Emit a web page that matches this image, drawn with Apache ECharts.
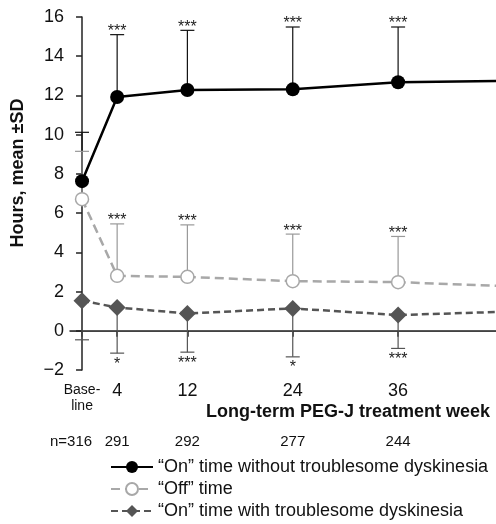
<!DOCTYPE html>
<html><head><meta charset="utf-8">
<script src="https://cdn.jsdelivr.net/npm/echarts@6/dist/echarts.min.js"></script>
<style>html,body{margin:0;padding:0;background:#fff}#c{width:496px;height:524px}</style>
</head><body><div id="c"></div>
<script>
const weeks = [0, 4, 12, 24, 36, 48];
const tickWeeks = [0, 4, 12, 24, 36];
const tickLabels = ['Base-\nline', '4', '12', '24', '36'];
const nCounts = ['316', '291', '292', '277', '244'];
const onNoTD = [7.63, 11.92, 12.28, 12.31, 12.67, 12.74];
const onNoTDUpper = [10.12, 15.1, 15.32, 15.49, 15.49];
const onNoTDStars = ['', '***', '***', '***', '***'];
const offTime = [6.71, 2.8, 2.75, 2.53, 2.48, 2.28];
const offUpper = [9.15, 5.45, 5.4, 4.93, 4.81];
const offStars = ['', '***', '***', '***', '***'];
const onTD = [1.53, 1.19, 0.88, 1.14, 0.8, 0.97];
const onTDLower = [-0.46, -1.14, -1.09, -1.33, -0.9];
const onTDStars = ['', '*', '***', '*', '***'];

const FONT = '"Liberation Sans", Arial, Helvetica, sans-serif';
const X_MIN = -1.37, X_MAX = 47.15;

function pairs(xs, ys) { return ys.map((v, i) => [xs[i], v]); }

function errSeries(name, means, bounds, stars, color, up) {
  return {
    type: 'custom', name: name + ' SD', z: 1, silent: true,
    data: bounds.map((b, i) => [weeks[i], means[i], b]),
    renderItem: function (params, api) {
      const x = api.value(0), m = api.value(1), b = api.value(2);
      const p0 = api.coord([x, m]), p1 = api.coord([x, b]);
      const children = [
        { type: 'line', shape: { x1: p0[0], y1: p0[1], x2: p1[0], y2: p1[1] }, style: { stroke: color, lineWidth: 1.2 } },
        { type: 'line', shape: { x1: p1[0] - 7, y1: p1[1], x2: p1[0] + 7, y2: p1[1] }, style: { stroke: color, lineWidth: 1.2 } }
      ];
      const s = stars[params.dataIndex];
      if (s) {
        children.push({
          type: 'text',
          style: {
            text: s, x: p1[0], y: up ? p1[1] - 3 : p1[1] + 11,
            align: 'center', verticalAlign: 'middle',
            fill: '#222', font: '16px ' + FONT
          }
        });
      }
      return { type: 'group', children: children };
    }
  };
}

const chart = echarts.init(document.getElementById('c'), null, { renderer: 'canvas' });
chart.setOption({
  animation: false,
  backgroundColor: '#fff',
  grid: { left: 70, right: 0, top: 17, bottom: 154, containLabel: false },
  xAxis: [{
    type: 'value', min: X_MIN, max: X_MAX, position: 'bottom',
    axisLine: { show: true, lineStyle: { color: '#222', width: 1.5 } },
    axisTick: { show: true, customValues: tickWeeks, length: 6, lineStyle: { color: '#222', width: 1.5 } },
    axisLabel: {
      show: true, customValues: tickWeeks, margin: 12, color: '#111',
      fontFamily: FONT, fontSize: 18, lineHeight: 18,
      formatter: function (v) {
        const i = tickWeeks.indexOf(v);
        if (i === 0) return '{b|Base-}\n{b|line}';
        return i >= 0 ? tickLabels[i] : '';
      },
      rich: { b: { fontFamily: FONT, fontSize: 14, lineHeight: 16, color: '#111' } }
    },
    splitLine: { show: false }
  }, {
    type: 'value', min: X_MIN, max: X_MAX, position: 'bottom', offset: 64,
    axisLine: { show: false }, axisTick: { show: false }, splitLine: { show: false },
    axisLabel: {
      show: true, customValues: tickWeeks, margin: 0, color: '#111',
      fontFamily: FONT, fontSize: 15,
      formatter: function (v) {
        const i = tickWeeks.indexOf(v);
        if (i === 0) return '{n|n=}{v|' + nCounts[0] + '}';
        return i >= 0 ? nCounts[i] : '';
      },
      rich: {
        n: { fontFamily: FONT, fontSize: 15, color: '#111' },
        v: { fontFamily: FONT, fontSize: 15, color: '#111', padding: [0, 22, 0, 0] }
      }
    }
  }],
  yAxis: {
    type: 'value', min: -2, max: 16, interval: 2,
    axisLine: { show: true, lineStyle: { color: '#222', width: 1.5 } },
    axisTick: { show: true, length: 6, lineStyle: { color: '#222', width: 1.5 } },
    axisLabel: {
      color: '#111', fontFamily: FONT, fontSize: 18, margin: 6,
      formatter: v => String(v).replace('-', '\u2212')
    },
    splitLine: { show: false }
  },
  legend: {
    orient: 'vertical', left: 110, top: 458, itemWidth: 42, itemHeight: 15, itemGap: 4,
    padding: 0, height: 80,
    textStyle: { color: '#111', fontFamily: FONT, fontSize: 18, lineHeight: 18 },
    data: ['\u201cOn\u201d time without troublesome dyskinesia', '\u201cOff\u201d time', '\u201cOn\u201d time with troublesome dyskinesia']
  },
  graphic: [
    { type: 'text', right: 6, top: 403, style: { text: 'Long-term PEG-J treatment week', font: 'bold 18px ' + FONT, fill: '#111' } },
    { type: 'text', x: 18.5, y: 173, rotation: Math.PI / 2, style: { text: 'Hours, mean \u00b1SD', font: 'bold 18px ' + FONT, fill: '#111', align: 'center', verticalAlign: 'middle' } }
  ],
  series: [
    errSeries('on', onNoTD, onNoTDUpper, onNoTDStars, '#111', true),
    errSeries('off', offTime, offUpper, offStars, '#999', true),
    errSeries('ontd', onTD, onTDLower, onTDStars, '#555', false),
    {
      type: 'line', name: '\u201cOn\u201d time with troublesome dyskinesia', z: 3,
      data: pairs(weeks, onTD), symbol: 'diamond', symbolSize: 17, showSymbol: true,
      lineStyle: { color: '#555', width: 2.5, type: [7, 4] },
      itemStyle: { color: '#555', borderWidth: 0 },
      markLine: { silent: true, symbol: 'none', label: { show: false }, lineStyle: { color: '#aaa', width: 1, type: 'solid' }, data: [{ yAxis: 0 }], z: 0 }
    },
    {
      type: 'line', name: '\u201cOff\u201d time', z: 4,
      data: pairs(weeks, offTime), symbol: 'circle', symbolSize: 13, showSymbol: true,
      lineStyle: { color: '#a8a8a8', width: 2.5, type: [9, 5] },
      itemStyle: { color: '#fff', borderColor: '#a8a8a8', borderWidth: 1.5 }
    },
    {
      type: 'line', name: '\u201cOn\u201d time without troublesome dyskinesia', z: 5,
      data: pairs(weeks, onNoTD), symbol: 'circle', symbolSize: 14, showSymbol: true,
      lineStyle: { color: '#000', width: 2.5 },
      itemStyle: { color: '#000' }
    }
  ]
});
</script>
</body></html>
